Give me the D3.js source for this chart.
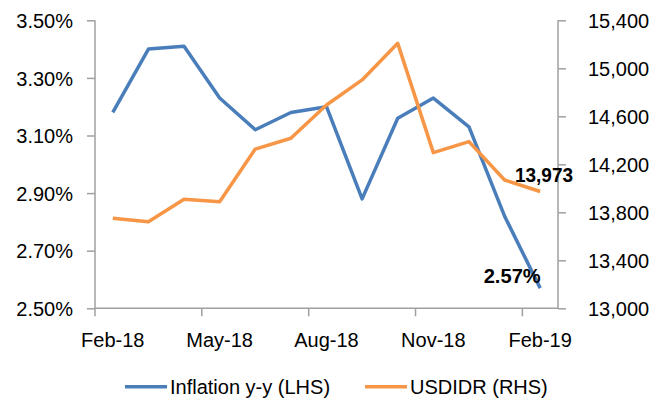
<!DOCTYPE html>
<html><head><meta charset="utf-8">
<script src="https://cdn.jsdelivr.net/npm/d3@7"></script>
<style>body{margin:0;background:#fff}svg{display:block}text{font-family:"Liberation Sans",Arial,sans-serif;fill:#000}</style>
</head><body><svg id="c" width="672" height="401"></svg>
<script>
const months = ["Feb-18","Mar-18","Apr-18","May-18","Jun-18","Jul-18","Aug-18","Sep-18","Oct-18","Nov-18","Dec-18","Jan-19","Feb-19"];
const inflation = [3.18,3.40,3.41,3.23,3.12,3.18,3.20,2.88,3.16,3.23,3.13,2.82,2.57];
const usdidr = [13750,13722,13908,13888,14327,14417,14694,14903,15208,14297,14389,14069,13973];
const leftTicks = [2.5,2.7,2.9,3.1,3.3,3.5];
const rightTicks = [13000,13400,13800,14200,14600,15000,15400];
const xTickLabels = ["Feb-18","May-18","Aug-18","Nov-18","Feb-19"];
const seriesNames = ["Inflation y-y (LHS)","USDIDR (RHS)"];
const colors = ["#4a7ebb","#f79646"];

const svg = d3.select("#c");
const L=95,R=558,T=20.3,B=308.3;
const x = d3.scaleBand().domain(months).range([L,R]).padding(0);
const yL = d3.scaleLinear().domain([2.5,3.5]).range([B,T]);
const yR = d3.scaleLinear().domain([13000,15400]).range([B,T]);
const axisCol="#a0a0a0";

// left axis
const gL = svg.append("g").attr("transform",`translate(${L},0)`)
  .call(d3.axisLeft(yL).tickValues(leftTicks).tickSize(8).tickPadding(14).tickFormat(d=>d3.format(".2f")(d)+"%"));
// right axis
const gR = svg.append("g").attr("transform",`translate(${R},0)`)
  .call(d3.axisRight(yR).tickValues(rightTicks).tickSize(8).tickPadding(22).tickFormat(d3.format(",")));
[gL,gR].forEach(g=>{
  g.select(".domain").attr("stroke",axisCol).attr("stroke-width",1.5).attr("d", g===gL?`M0,${T}V${B}`:`M0,${T}V${B}`);
  g.selectAll(".tick line").attr("stroke",axisCol).attr("stroke-width",1.5);
  g.selectAll(".tick text").style("font-size","20px").attr("dy","0.36em");
});
// bottom axis
svg.append("line").attr("x1",L).attr("x2",R).attr("y1",B).attr("y2",B).attr("stroke",axisCol).attr("stroke-width",1.5);
const bIdx=[0,3,6,9,12];
svg.selectAll(".xt").data(bIdx).join("line")
  .attr("x1",i=>x(months[i])).attr("x2",i=>x(months[i]))
  .attr("y1",B).attr("y2",B+8).attr("stroke",axisCol).attr("stroke-width",1.5);
svg.selectAll(".xl").data(bIdx).join("text")
  .attr("x",(i)=>x(months[i])+x.bandwidth()/2).attr("y",346.5)
  .attr("text-anchor","middle").style("font-size","20px")
  .text((i,k)=>xTickLabels[k]);

// lines
const lineL = d3.line().x((d,i)=>x(months[i])+x.bandwidth()/2).y(d=>yL(d));
const lineR = d3.line().x((d,i)=>x(months[i])+x.bandwidth()/2).y(d=>yR(d));
svg.append("path").datum(inflation).attr("d",lineL).attr("fill","none").attr("stroke",colors[0]).attr("stroke-width",3.5).attr("stroke-linejoin","round");
svg.append("path").datum(usdidr).attr("d",lineR).attr("fill","none").attr("stroke",colors[1]).attr("stroke-width",3.5).attr("stroke-linejoin","round");

// data labels
const last = months.length-1;
const cx = x(months[last])+x.bandwidth()/2;
svg.append("text").attr("x",cx+0.5).attr("y",283).attr("text-anchor","end")
  .style("font-size","21px").style("font-weight","bold")
  .attr("textLength",57).attr("lengthAdjust","spacingAndGlyphs")
  .text(d3.format(".2f")(inflation[last])+"%");
svg.append("text").attr("x",515).attr("y",181.5)
  .style("font-size","21px").style("font-weight","bold")
  .attr("textLength",58).attr("lengthAdjust","spacingAndGlyphs")
  .text(d3.format(",")(usdidr[last]));

// legend
const leg=[{x1:125,x2:167,tx:170},{x1:365,x2:407,tx:410}];
leg.forEach((l,i)=>{
  svg.append("line").attr("x1",l.x1).attr("x2",l.x2).attr("y1",386.7).attr("y2",386.7).attr("stroke",colors[i]).attr("stroke-width",3.5);
  svg.append("text").attr("x",l.tx).attr("y",393.5).style("font-size","20px").text(seriesNames[i]);
});
</script></body></html>
